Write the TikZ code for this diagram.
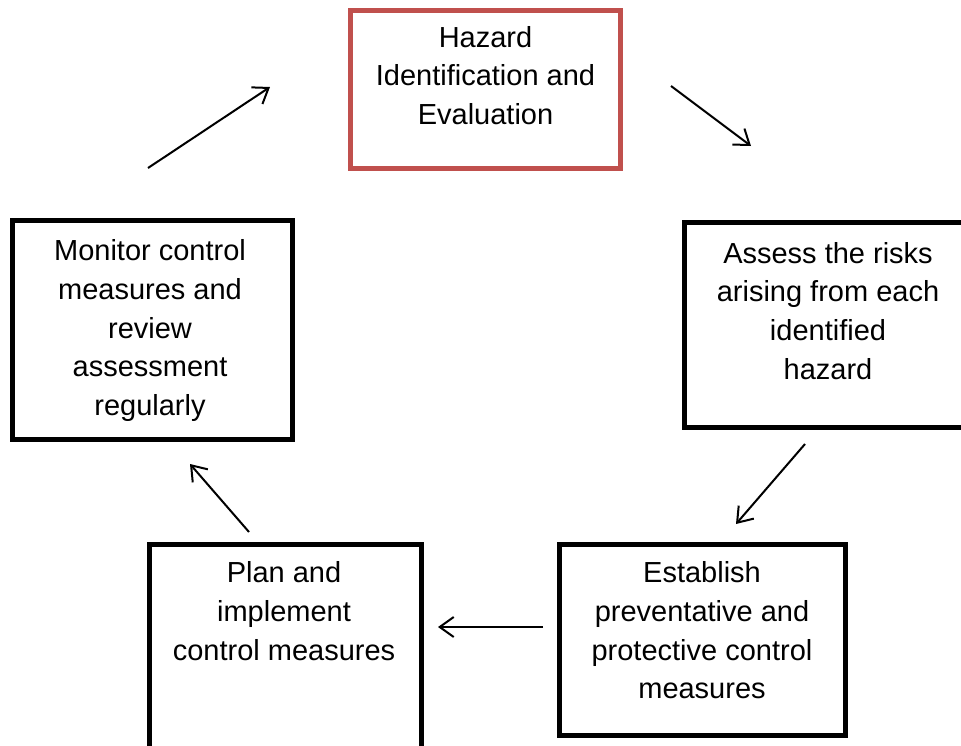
\documentclass[tikz,border=0pt]{standalone}
\usepackage{fontspec}
\setmainfont{Liberation Sans}
\usetikzlibrary{arrows.meta}
\definecolor{boxred}{RGB}{192,80,77}
\tikzset{
  stepbox/.style={draw=black, line width=5pt, fill=none, inner sep=0pt},
  redbox/.style={stepbox, draw=boxred},
  steptext/.style={anchor=north, align=center, inner sep=0pt,
    font=\fontsize{29}{38.7}\selectfont},
  flow/.style={line width=2pt, -{Straight Barb[length=14pt,width=20pt,line width=2pt]}}
}
\begin{document}
\begin{tikzpicture}[x=1pt,y=-1pt]
\useasboundingbox (0,0) rectangle (961,745);
\clip (0,0) rectangle (961,745);
\fill[white] (0,0) rectangle (961,745);
% boxes
\node[redbox, minimum width=270pt, minimum height=158.5pt] (haz) at (485.5,89.25) {};
\node[stepbox, minimum width=290.5pt, minimum height=204.5pt] (assess) at (829.75,324.75) {};
\node[stepbox, minimum width=286.5pt, minimum height=191pt] (estab) at (702.25,640) {};
\node[stepbox, minimum width=271.3pt, minimum height=215.5pt] (plan) at (285.35,652.25) {};
\node[stepbox, minimum width=280pt, minimum height=219.4pt] (monitor) at (152,330) {};
% texts
\node[steptext] (hazt) at (485.5,26) {Hazard\\Identification and\\Evaluation};
\node[steptext] (assesst) at (828,242) {Assess the risks\\arising from each\\identified\\hazard};
\node[steptext] (estabt) at (702,561.5) {Establish\\preventative and\\protective control\\measures};
\node[steptext] (plant) at (284,561.5) {Plan and\\implement\\control measures};
\node[steptext] (monitort) at (150,239.5) {Monitor control\\measures and\\review\\assessment\\regularly};
% arrow ends
\coordinate (a1s) at (148,168); \coordinate (a1e) at (270,87);
\coordinate (a2s) at (671,86);  \coordinate (a2e) at (751,146);
\coordinate (a3s) at (805,444); \coordinate (a3e) at (736,524);
\coordinate (a4s) at (543,627); \coordinate (a4e) at (438,627);
\coordinate (a5s) at (249,532); \coordinate (a5e) at (190,464);
\draw[flow] (a1s) -- (a1e);
\draw[flow] (a2s) -- (a2e);
\draw[flow] (a3s) -- (a3e);
\draw[flow] (a4s) -- (a4e);
\draw[flow] (a5s) -- (a5e);
\end{tikzpicture}
\end{document}
